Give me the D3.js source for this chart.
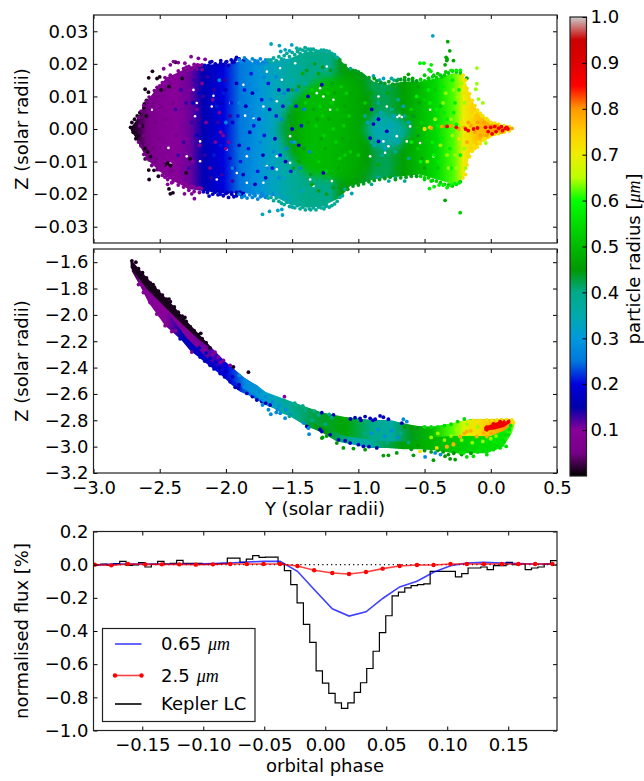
<!DOCTYPE html>
<html>
<head>
<meta charset="utf-8">
<script src="https://cdn.jsdelivr.net/npm/d3@7"></script>
<style>
body { margin: 0; background: #fff; }
text { font-family: "DejaVu Sans", sans-serif; fill: #000; }
.math { font-family: "Liberation Serif", serif; font-style: italic; }
</style>
</head>
<body>
<div id="chart"></div>
<script>
// Colour table of the particle radius bar, read as value -> colour.
const cmapStops = [0,.05,.1,.15,.2,.25,.3,.35,.4,.45,.5,.55,.6,.65,.7,.75,.8,.85,.9,.95,1];
const cmapColors = ["#000000","#770088","#880099","#0000aa","#0000dd","#0077dd","#0099dd","#00aaaa","#00aa88","#009900",
    "#00bb00","#00dd00","#00ff00","#bbff00","#eeee00","#ffcc00","#ff9900","#ff0000","#dd0000","#cc0000","#cccccc"];

// The clouds hold far more particles than can be read one by one, so each dense body
// is a band: [Y, upper Z, lower Z, radius].
const topOuter = [[-2.72,.0003,-.0003,.01],[-2.673,.0029,-.0033,.02],[-2.598,.0085,-.0092,.05],[-2.522,.0125,-.0122,.08],
    [-2.447,.0158,-.0148,.09],[-2.371,.0172,-.0165,.1],[-2.271,.0192,-.0185,.11],[-2.17,.0198,-.019,.16],[-2.019,.0198,-.0198,.2],
    [-1.893,.0207,-.0196,.25],[-1.767,.0204,-.0201,.29],[-1.641,.0207,-.0206,.33],[-1.515,.0217,-.0232,.37],[-1.389,.0238,-.0242,.4],
    [-1.263,.0238,-.0237,.4],[-1.213,.0233,-.0226,.4],[-1.138,.0212,-.0211,.44],[-1.062,.0182,-.0175,.46],[-.962,.0171,-.0165,.44],
    [-.886,.0146,-.0155,.42],[-.785,.0136,-.015,.42],[-.66,.0146,-.0145,.46],[-.534,.0146,-.014,.5],[-.408,.0156,-.0155,.55],
    [-.282,.0171,-.017,.62],[-.206,.0166,-.015,.7],[-.156,.01,-.0073,.73],[-.105,.0059,-.0053,.76],[-.03,.0029,-.0028,.78],
    [.071,.0013,-.0012,.8],[.171,.0002,-.0002,.76]];
const topCore = [[-1.6,.001,-.001,.42],[-1.5,.008,-.009,.46],[-1.389,.013,-.014,.5],[-1.263,.016,-.015,.5],[-1.138,.016,-.016,.49],
    [-1,.015,-.015,.47],[-.9,.01,-.012,.45]];
const topCentre = [[-.95,.001,-.001,.38],[-.85,.005,-.006,.34],[-.7,.004,-.006,.36],[-.6,.0005,-.0005,.4]];

const midLower = [[-2.711,-1.585,-1.668,.02],[-2.648,-1.668,-1.781,.07],[-2.585,-1.743,-1.906,.09],[-2.522,-1.806,-1.994,.1],
    [-2.459,-1.868,-2.082,.1],[-2.396,-1.931,-2.137,.12],[-2.334,-2.006,-2.195,.16],[-2.271,-2.082,-2.27,.17],[-2.208,-2.144,-2.32,.18],
    [-2.145,-2.207,-2.37,.18],[-2.082,-2.282,-2.42,.19],[-2.019,-2.345,-2.471,.2],[-1.956,-2.395,-2.533,.21],[-1.893,-2.458,-2.584,.22],
    [-1.83,-2.496,-2.609,.25],[-1.767,-2.533,-2.646,.25],[-1.704,-2.584,-2.684,.3],[-1.641,-2.621,-2.709,.33],[-1.578,-2.646,-2.747,.36],
    [-1.515,-2.659,-2.772,.38],[-1.452,-2.679,-2.809,.4],[-1.389,-2.701,-2.847,.42],[-1.326,-2.722,-2.872,.44],[-1.263,-2.747,-2.9,.45],
    [-1.163,-2.772,-2.96,.42],[-1.037,-2.785,-2.985,.36],[-.911,-2.797,-3.01,.36],[-.785,-2.797,-3.01,.42],[-.66,-2.822,-3.02,.46],
    [-.534,-2.847,-3.02,.48],[-.408,-2.847,-3.03,.5],[-.282,-2.822,-3.05,.52],[-.156,-2.792,-3.05,.54],[-.03,-2.792,-3.05,.55],
    [.096,-2.792,-3,.57],[.159,-2.792,-2.897,.62],[.184,-2.81,-2.82,.7]];
const midUpper = [[-2.7,-1.6,-1.66,.03],[-2.5,-1.825,-1.9,.09],[-2.3,-2.045,-2.17,.1],[-2.15,-2.205,-2.32,.11],[-2,-2.36,-2.45,.2],
    [-1.85,-2.485,-2.57,.28],[-1.7,-2.585,-2.66,.32],[-1.5,-2.66,-2.74,.38],[-1.3,-2.735,-2.84,.43],[-1.1,-2.775,-2.92,.47],
    [-.9,-2.797,-2.95,.4],[-.75,-2.8,-2.96,.36],[-.6,-2.84,-2.96,.44],[-.45,-2.85,-2.93,.5],[-.3,-2.825,-2.92,.62],[-.2,-2.8,-2.92,.68],
    [-.1,-2.792,-2.92,.72],[0,-2.792,-2.92,.76],[.1,-2.792,-2.88,.8],[.17,-2.795,-2.82,.78]];
const midEdge = [[-2.72,-1.585,-1.64,.01],[-2.6,-1.72,-1.8,.01],[-2.5,-1.825,-1.9,.01],[-2.4,-1.93,-2,.01],[-2.3,-2.045,-2.1,.01],
    [-2.2,-2.15,-2.19,.01],[-2.12,-2.24,-2.25,.01]];
const midStreak = [[-.05,-2.85,-2.88,.86],[.03,-2.82,-2.87,.87],[.1,-2.8,-2.85,.87],[.16,-2.79,-2.81,.87]];

// White holes seen inside the upper cloud, as Y,Z pairs.
const topGaps = [-2.245,.012,-2.22,.008,-2.094,.0102,-2.107,.0069,-2.233,.0039,-2.434,-.0058,-2.56,.0059,-2.42,-.0106,-2.195,-.0099,-1.968,.008,-1.868,.0136,-1.691,.0176,-1.855,.0041,-1.792,.0034,-1.717,.0069,-1.616,.0085,-1.578,.0151,-1.515,-.0022,-1.515,-.0104,-1.616,-.0084,-1.691,-.0114,-1.842,-.0084,-1.842,-.0165,-1.364,-.0155,-1.339,-.0175,-1.289,.0125,-1.314,.011,-1.477,.0202,-1.591,.0187,-1.238,.0192,-1.918,-.0135,-1.717,-.0165,-1.616,-.0124,-2.195,-.0038,-2.069,-.0155,-2.296,-.0084,-1.994,-.0063,-.69,.0041,-.705,.0037,-.672,.0037,-.811,-.0038,-.773,-.0053,-.848,.01,-.785,.0069,-.911,-.0084,-.798,-.0073,-.71,-.0022,-.634,-.0038,-.609,.0008,-1.213,.0059,-1.264,.01,-1.2,-.016,-1.188,.009,-.534,-.0043,-.433,-.0084,-.458,.0059];

// Particles estimated by eye from the reference, grouped as [radius, [Y,Z, Y,Z, ...]].
const topParticles = [
[.01,[-2.72,.0005,-2.71,.002,-2.7,-.001,-2.69,.003,-2.68,-.003,-2.67,.004,-2.66,-.002,-2.65,.005,-2.64,-.005,-2.63,.001,-2.62,.0065,-2.61,-.006,-2.6,.004,-2.59,-.007,-2.57,-.0085,-2.555,.0177,-2.583,.0157,-2.61,.0122,-2.585,.0113,-2.616,.0077,-2.6,.0088,-2.61,-.0092,-2.583,-.0126,-2.543,-.0127,-2.58,-.0155,-2.51,-.0145,-2.42,-.0199,-2.43,-.0184,-2.4,-.0196,-2.44,-.0105,-2.46,-.011,-2.42,-.0112,-2.43,.013,-2.38,.0205,-2.33,.0155,-2.3,-.0135,-2.27,-.0092,-2.52,.0155,-2.5,.016,-2.49,.012]],
[.05,[-2.66,.0035,-2.64,.0055,-2.62,.0072,-2.6,.0085,-2.58,.0098,-2.56,.0082,-2.54,.0118,-2.52,.0128,-2.66,-.004,-2.64,-.0052,-2.62,-.0078,-2.6,-.009,-2.58,-.0095,-2.56,-.0112,-2.54,-.0098,-2.52,-.0125,-2.65,.001,-2.62,-.002,-2.6,.001,-2.58,.006,-2.57,-.004,-2.55,.008,-2.55,-.006,-2.53,.002,-2.52,.01,-2.52,-.009,-2.5,-.003,-2.49,.007,-2.47,-.011,-2.46,.012,-2.45,.003,-2.44,-.007,-2.42,.014,-2.41,-.013,-2.4,.008,-2.38,-.002]],
[.09,[-2.47,.0185,-2.42,.0197,-2.396,.0207,-2.36,.0204,-2.31,.0202,-2.263,.0222,-2.208,.0217,-2.157,.0214,-2.215,.0197,-2.18,.0197,-2.44,-.017,-2.41,-.0165,-2.296,-.0175,-2.313,-.0199,-2.258,-.0199,-2.238,-.0214,-2.3,.019,-2.27,.0185,-2.24,.019,-2.35,.017,-2.39,.016,-2.43,.0155,-2.36,-.016,-2.33,-.0165,-2.28,-.018,-2.24,-.0178,-2.2,-.018,-2.35,.01,-2.33,.004,-2.3,-.003,-2.27,.012,-2.25,-.01,-2.22,.006,-2.2,-.005,-2.18,.014,-2.15,.002,-2.12,-.012,-2.1,.009,-2.08,-.004,-2.05,.005,-2.02,-.002,-2,-.006,-1.98,-.004,-2.04,-.001,-2.5,.0132,-2.48,.0142,-2.46,.0158,-2.44,.0152,-2.42,.0165,-2.4,.0158,-2.38,.0162,-2.36,.0178,-2.34,.017,-2.32,.0185,-2.3,.0178,-2.28,.0192,-2.26,.0182,-2.24,.0198,-2.22,.0185,-2.2,.0195,-2.18,.0182,-2.5,-.0125,-2.48,-.0142,-2.46,-.0148,-2.44,-.0155,-2.42,-.0148,-2.4,-.0162,-2.38,-.0155,-2.36,-.0172,-2.34,-.016,-2.32,-.0178,-2.3,-.0168,-2.28,-.0188,-2.26,-.0175,-2.24,-.0192,-2.22,-.0182,-2.2,-.0195,-2.18,-.0182]],
[.13,[-2.38,.006,-2.36,-.008,-2.34,.012,-2.32,-.004,-2.3,.008,-2.28,-.012,-2.26,.002,-2.24,.015,-2.22,-.014,-2.2,.003,-2.17,.01,-2.16,-.008,-2.14,.016,-2.11,-.015,-2.09,.012,-2.06,.002,-2.03,-.014,-2.01,.015,-1.97,.004,-1.95,-.016]],
[.17,[-2.107,.0207,-2.039,.021,-1.994,.0207,-2.13,.0195,-2.08,.0198,-1.95,.0205,-1.9,.0215,-1.87,.021,-1.85,.0212,-1.93,.0212,-2.17,-.0193,-2.127,-.0206,-2.082,-.0194,-2.044,-.02,-1.956,-.02,-1.893,-.0194,-1.99,-.0195,-1.92,-.0205,-1.88,-.0205,-1.87,-.0198,-2.25,.008,-2.22,-.002,-2.2,.011,-2.18,-.011,-2.15,.007,-2.13,-.004,-2.1,.003,-2.08,.015,-2.06,-.012,-2.03,.008,-2,.012,-1.97,-.009,-1.95,.002,-1.92,.014,-1.9,-.005,-1.87,-.014,-1.85,.007,-1.82,-.001,-1.8,.011,-1.78,-.017,-1.75,.003,-1.72,-.008,-1.7,-.015,-1.67,.006,-1.63,-.003,-1.6,.012,-1.55,-.01,-1.5,0,-1.45,-.005,-1.38,.01,-1.276,.0136,-1.264,-.0135,-.899,.006,-.848,.003,-.886,.0015,-.911,-.0028,-.848,-.0038,-.785,-.0007,-2.16,.0195,-2.14,.019,-2.12,.0205,-2.1,.0192,-2.08,.02,-2.06,.0195,-2.04,.0202,-2.02,.0198,-2,.0205,-1.98,.0195,-1.96,.0212,-1.94,.0205,-1.92,.022,-2.16,-.0185,-2.14,-.0195,-2.12,-.0182,-2.1,-.02,-2.08,-.0188,-2.06,-.0202,-2.04,-.0192,-2.02,-.0205,-2,-.0198,-1.98,-.021,-1.96,-.0195,-1.94,-.0208,-1.92,-.0195]],
[.21,[-2.09,-.008,-2.07,.007,-2.04,-.005,-2.02,.011,-1.99,.001,-1.96,.008,-1.94,-.012,-1.91,.004,-1.89,-.01,-1.86,.012,-1.83,-.006,-1.81,.017,-1.79,.001,-1.76,-.013,-1.73,.009,-1.71,-.002,-1.68,.014,-1.65,-.012,-1.62,.004,-1.59,-.008,-1.57,.007,-1.53,.012,-1.51,-.013,-1.47,.007,-1.43,.001]],
[.27,[-1.82,.0195,-1.78,.0205,-1.75,.02,-1.72,.0202,-1.69,.0207,-1.792,-.0198,-1.729,-.0199,-1.691,-.0206,-1.641,-.02,-2.05,.015,-2,.002,-1.95,-.012,-1.9,.008,-1.87,-.003,-1.84,.015,-1.82,-.01,-1.8,.004,-1.77,.012,-1.74,-.004,-1.71,.016,-1.69,-.012,-1.66,.009,-1.64,-.007,-1.62,.016,-1.6,-.015,-1.58,.003,-1.56,.011,-1.54,-.006,-1.9,.0212,-1.88,.0205,-1.86,.0218,-1.84,.021,-1.82,.0205,-1.8,.0215,-1.78,.021,-1.76,.0208,-1.74,.0215,-1.72,.0205,-1.7,.0212,-1.9,-.02,-1.88,-.021,-1.86,-.0205,-1.84,-.0212,-1.82,-.0202,-1.8,-.021,-1.78,-.0205,-1.76,-.0215,-1.74,-.0208,-1.72,-.0205,-1.7,-.021,-1.5,-.004,-1.47,.012,-1.44,-.012,-1.41,.006,-1.37,-.007]],
[.33,[-1.7,.019,-1.66,.0212,-1.62,.0205,-1.6,.0195,-1.56,.0212,-1.53,.021,-1.65,-.017,-1.62,-.02,-1.58,-.0205,-1.56,-.015,-1.52,.008,-1.5,.015,-1.48,-.004,-1.45,.019,-1.42,-.019,-1.4,.014,-1.659,.0261,-1.596,.0256,-1.503,.0258,-1.586,.0238,-1.553,.0243,-1.52,.024,-1.724,-.0262,-1.671,-.0253,-1.608,-.025,-1.578,-.0247,-1.573,-.0264,-1.54,-.0211,-1.523,-.0223,-1.498,-.024,-1.05,-.0198,-.438,.0286,-.886,.0163,-.84,.015,-.81,.0155,-.82,.014,-.85,-.0148,-.93,.002,-.88,-.005,-.83,.005,-.8,-.006,-.76,.001,-.73,.004,-.7,-.004,-.66,.007,-.62,.002]],
[.38,[-1.465,.0248,-1.44,.0245,-1.402,.025,-1.36,.0245,-1.3,.0238,-1.447,-.0232,-1.42,-.024,-1.37,-.0245,-1.3,-.024,-1.25,-.0238,-1.2,-.0235,-1.15,.0215,-1.17,.022,-1.14,-.021,-1.1,-.0185,-1.06,.0185,-.9,-.017,-.75,.0155,-.73,.015,-.7,.0152,-.77,-.016,-.72,-.015,-.65,-.016,-.95,.004,-.9,-.004,-.85,.008,-.82,-.008,-.8,.002,-.78,-.004,-.75,.006,-.72,-.007,-.7,.009,-.67,-.002,-.65,.004,-.62,-.009,-1.68,.0212,-1.66,.0205,-1.64,.0218,-1.62,.021,-1.6,.0222,-1.58,.0215,-1.56,.0225,-1.54,.0232,-1.52,.0222,-1.5,.0235,-1.48,.0228,-1.46,.0238,-1.44,.0232,-1.42,.0242,-1.4,.0238,-1.38,.0245,-1.36,.024,-1.34,.0245,-1.32,.024,-1.28,.0242,-1.26,.0242,-1.24,.024,-1.22,.0238,-1.2,.0232,-1.18,.0228,-1.16,.022,-1.68,-.0212,-1.66,-.021,-1.64,-.022,-1.62,-.0212,-1.6,-.0222,-1.58,-.0228,-1.56,-.0232,-1.54,-.0225,-1.52,-.0238,-1.5,-.023,-1.48,-.0242,-1.46,-.0235,-1.44,-.0245,-1.4,-.0248,-1.36,-.0248,-1.34,-.0242,-1.32,-.0248,-1.28,-.0242,-1.26,-.0245,-1.24,-.0235,-1.22,-.024,-1.18,-.023,-1.16,-.0222,-1.12,-.0205]],
[.44,[-1.14,.0212,-1.12,.0195,-1.1,.0195,-1.08,.0182,-1.04,.018,-1.02,.0178,-1,.0175,-.98,.017,-.96,.0162,-.92,.0158,-.88,.0155,-.86,.0148,-.83,.0142,-.8,.014,-.77,.0145,-.74,.0138,-.71,.0148,-.68,.0152,-.65,.015,-.62,.0152,-.59,.0148,-.56,.0148,-1.08,-.0185,-1.04,-.0175,-1,-.0172,-.96,-.0168,-.92,-.0162,-.88,-.0158,-.84,-.0155,-.8,-.0152,-.76,-.0148,-.72,-.0155,-.68,-.015,-.64,-.0148,-.6,-.0145,-.56,-.0145,-1.52,.004,-1.49,-.012,-1.45,.013,-1.41,-.006,-1.39,.018,-1.36,-.014,-1.33,.02,-1.3,-.019,-1.27,.019,-1.24,-.02,-1.21,.018,-1.19,-.018,-.58,.004,-.55,-.002]],
[.47,[-1.5,.012,-1.45,-.01,-1.42,.017,-1.38,.002,-1.35,-.017,-1.3,.017,-1.25,-.006,-1.2,.014,-1.15,-.012,-1.1,.007,-1.05,-.004,-1,.012,-.95,-.012,-.9,.011,-.85,-.011,-.78,.011,-.7,-.012,-.65,.01,-.6,-.013,-.55,.013,-.5,-.012,-.622,.0168,-.65,.0158,-.59,.0155,-.345,-.0219,-.33,.0215,-.282,.021,-.325,.0268,-.31,.024,-.337,.022,-.332,.021,-.345,.0197,-.181,.0156,-1.34,.006,-1.31,.003,-1.28,-.003,-1.22,.003,-1.18,.011,-1.12,-.003,-1.06,.011,-1.03,-.012,-.98,.004,-.96,-.004,-.54,.008,-.52,-.009]],
[.53,[-1.4,.008,-1.35,.012,-1.3,-.01,-1.27,.004,-1.24,-.013,-1.2,.008,-1.17,-.004,-1.13,.013,-1.1,-.008,-1.07,.004,-1,-.008,-.95,.008,-.6,.006,-.55,-.006,-.52,.002,-.5,.009,-.47,-.009,-.45,.004,-.42,.012,-.4,-.012,-.38,.007,-.231,-.0257,-.5,.0165,-.47,.0155,-.43,.0165,-.4,.017,-.37,.016,-.34,.0175,-.5,-.0155,-.45,-.016,-.53,.0152,-.5,.0148,-.47,.0155,-.44,.016,-.41,.0158,-.38,.0165,-.35,.0165,-.32,.0172,-.29,.0178,-.26,.0175,-.23,.0172,-.53,-.0145,-.5,-.015,-.47,-.015,-.44,-.0158,-.41,-.016,-.38,-.0165,-.35,-.017,-.32,-.0172,-.29,-.0175,-.26,-.017,-.23,-.0162,-1.32,.001,-1.29,.007,-1.26,-.002,-1.23,.011,-1.19,0,-1.16,.006,-1.14,-.009,-1.11,.001,-1.09,.011,-1.06,-.007]],
[.58,[-.6,-.004,-.56,.01,-.53,-.01,-.5,0,-.47,.012,-.44,-.004,-.41,.006,-.39,-.01,-.36,.013,-.33,.003,-.3,-.012,-.29,.015,-.27,.008,-.463,-.0183,-.428,-.0177,-.39,-.0172,-.36,-.0172,-.33,-.018,-.3,-.0172,-.27,-.0168,-.24,-.0165,-.534,.0202,-.505,.0202,-.45,.0197,-.466,.0182,-.453,.0177,-.3,.018,-.26,.018,-.23,.018,-.46,.008,-.43,-.008,-.4,.001,-.37,-.003,-.35,.005,-.31,-.006,-.28,.005,-.26,.0014,-.24,.012,-.23,-.008]],
[.64,[-.42,.003,-.38,-.005,-.36,.008,-.33,-.008,-.3,.003,-.28,.012,-.26,-.012,-.24,.005,-.22,.014,-.22,-.015,-.2,-.006,-.2,.008,-.19,-.012,-.5,0,-.48,-.01,-.105,.0187,-.105,.0139,-.113,.0122,-.093,.0092,-.06,.008,-.037,-.0043,-.34,.011,-.32,-.012,-.29,-.002,-.27,-.008,-.25,.01]],
[.72,[-.24,-.003,-.22,.002,-.2,.011,-.19,-.002,-.18,.006,-.17,-.008,-.16,.008,-.15,-.004,-.14,.004,-.13,-.005,-.12,.005,-.1,.0055,-.09,-.004,-.07,.004,-.05,-.003,-.03,.0032,-.5,0,-.46,.0005,-.21,.0165,-.19,.015,-.18,.0125,-.16,.0108,-.14,.0088,-.12,.0072,-.1,.0058,-.08,.0048,-.06,.004,-.04,.0032,-.02,.0026,0,.002,.03,.0018,.06,.0015,.1,.001,.14,.0007,-.21,-.015,-.19,-.014,-.18,-.011,-.16,-.0085,-.14,-.0068,-.12,-.006,-.1,-.0055,-.08,-.0045,-.06,-.0035,-.04,-.003,-.02,-.0025,0,-.002,.03,-.0016,.06,-.0014,.1,-.001,.14,-.0006]],
[.79,[-.3,.001,-.24,0,-.2,.0005,-.18,-.004,-.17,.002,-.15,.001,-.12,-.001,-.1,.002,-.08,-.002,-.05,.002,-.03,-.002,-.01,.001,.02,-.001,.05,.001,.08,-.001,.12,.0005,.16,.0002,-.45,.0003,-.37,.0008]],
[.87,[-.33,.0008,-.26,.0005,-.19,0,-.17,-.0005,-.13,0,-.1,.0003,-.04,.0005,-.02,-.0008,0,.0005,.01,-.0015,.03,.0008,.04,-.0008,.06,.0002,.08,.0007,.09,-.0005,.11,.0002,.12,.0005,.13,0]]
];

const midParticles = [
[.09,[-2.66,-1.77,-2.623,-1.83,-2.573,-1.906,-2.522,-1.994,-2.459,-2.082,-2.409,-2.127,-2.082,-2.282,-2.056,-2.32,-2.019,-2.345,-1.968,-2.383,-1.558,-2.621,-2.258,-2.282,-2.6,-1.84,-2.55,-1.92,-2.5,-2,-2.44,-2.06,-2.38,-2.12,-2.32,-2.12,-2.28,-2.17,-2.22,-2.22,-2.16,-2.26,-2.1,-2.3,-2.04,-2.36]],
[.01,[-2.71,-1.59,-2.7,-1.63,-2.66,-1.65,-2.63,-1.68,-2.6,-1.72,-2.57,-1.76,-2.54,-1.79,-2.51,-1.82,-2.48,-1.85,-2.45,-1.88,-2.42,-1.9,-2.39,-1.94,-2.36,-1.98,-2.33,-2.01,-2.3,-2.05,-2.27,-2.09,-2.24,-2.12,-2.21,-2.15,-2.18,-2.18,-2.15,-2.21,-1.943,-2.395,-1.83,-2.435,-2.68,-1.6,-2.55,-1.77,-2.43,-1.88,-2.31,-2.02,-2.19,-2.14,-2.12,-2.25]],
[.17,[-2.346,-2.182,-2.27,-2.245,-2.195,-2.32,-2.12,-2.383,-2.044,-2.445,-1.968,-2.508,-1.905,-2.558,-1.842,-2.596,-1.767,-2.646,-1.729,-2.659,-1.666,-2.684,-1.389,-2.847,-1.289,-2.87,-1.276,-2.885,-1.213,-2.91,-1.15,-2.948,-1.062,-2.973,-.962,-2.998,-.861,-3.01,-1.025,-2.78,-.987,-2.785,-.949,-2.772,-.911,-2.785,-.873,-2.792,-.836,-2.767,-.811,-2.777,-.773,-2.792,-.672,-2.822,-1.188,-2.76,-1.276,-2.742,-2.2,-2.25,-2.15,-2.29,-2.12,-2.33,-2.08,-2.36,-2.05,-2.4,-2,-2.43,-1.95,-2.47,-1.9,-2.53,-2.3,-2.2,-2.23,-2.28,-2.16,-2.35,-2.09,-2.41,-2.01,-2.47,-1.93,-2.55,-1.8,-2.62,-1.7,-2.67,-1.1,-2.955,-1,-2.985,-.92,-3,-.89,-2.8,-.98,-2.8,-1.06,-2.79]],
[.28,[-1.9,-2.46,-1.85,-2.5,-1.8,-2.55,-1.75,-2.58,-1.7,-2.62,-1.86,-2.55,-1.79,-2.6,-1.72,-2.65,-1.679,-2.72,-1.661,-2.754,-1.61,-2.72,-1.59,-2.747,-1.553,-2.784,-1.515,-2.76,-1.414,-2.82,-1.377,-2.86,-1.372,-2.905,-1.724,-2.684,-.496,-3.078,-.42,-3.048,-.38,-3.06,-.66,-2.792,-.634,-2.81,-.9,-2.9,-.85,-2.87,-.8,-2.92,-.75,-2.88,-.7,-2.93,-1.65,-2.66,-1.6,-2.69,-1.55,-2.72,-1.62,-2.74]],
[.4,[-1.5,-2.7,-1.45,-2.75,-1.4,-2.72,-1.35,-2.8,-1.3,-2.76,-1.25,-2.83,-1.2,-2.78,-.95,-2.9,-.88,-2.95,-.78,-2.97,-.68,-2.9,-.62,-2.97,-1.48,-2.67,-1.42,-2.69,-1.33,-2.73,-1.22,-2.755,-1.56,-2.65,-1.52,-2.77]],
[.45,[-1.27,-2.93,-1.24,-2.92,-1.276,-2.935,-1.163,-2.973,-1.113,-3.01,-1.037,-3.015,-.949,-3.023,-.811,-3.068,-.773,-3.066,-.71,-3.048,-.584,-3.066,-.433,-3.103,-.345,-3.073,-.32,-3.06,-.307,-3.093,-.269,-3.098,-.6,-3.02,-.55,-2.99,-.5,-3.03,-.45,-3.04,-.4,-3.03,-.36,-3.04,-.28,-3.05,-.22,-3.06,-.15,-3.05,-.65,-2.85,-.6,-2.86,-.55,-2.855]],
[.55,[-.181,-3.078,-.131,-3.073,-.093,-3.036,-.03,-3.061,.02,-3.023,.071,-3.01,.116,-2.998,.083,-2.948,.134,-2.91,.11,-2.91,-.231,-3.048,-.205,-3.048,-.08,-3,-.005,-2.973,.03,-3.01,-.5,-2.85,-.45,-2.85,-.4,-2.85,-.35,-2.84,-.3,-2.83,-.25,-2.81,-.2,-2.79,-.1,-3.04,-.05,-3.03,.05,-2.99,.1,-2.96,.14,-2.87,.15,-2.84]],
[.64,[-.45,-2.93,-.4,-2.9,-.35,-2.95,-.3,-2.92,-.26,-2.87,-.22,-2.95,-.18,-2.83,-.14,-2.97,-.1,-2.85,-.06,-2.96,0,-2.94,.04,-2.92]],
[.72,[-.534,-3.036,-.408,-3.01,-.332,-3,-.282,-2.985,-.231,-2.923,-.156,-2.847,-.106,-2.81,-.03,-2.797,.045,-2.797,.159,-2.81,.171,-2.82,.159,-2.797,-.13,-2.8,-.08,-2.8,.01,-2.8,.08,-2.795,.12,-2.795]],
[.78,[-.231,-2.923,-.181,-2.885,-.106,-2.923,-.055,-2.897,-.03,-2.923,-.332,-3,-.282,-2.98,-.2,-2.9,-.15,-2.88,0,-2.9,.05,-2.88]],
[.87,[-.03,-2.872,.008,-2.852,.045,-2.842,.096,-2.822,.134,-2.81,.071,-2.81,.02,-2.827,-.03,-2.852]]
];

// Light curves.
const modelPhase = [-.189,-.1754,-.1617,-.1476,-.1339,-.1197,-.1061,-.0921,-.0779,-.0643,-.0506,-.037,-.0228,-.0091,.0058,.0195,.0334,.0471,.061,.0752,.0888,.1027,.1161,.13,.1448,.1584,.1721,.1863];
const flux065 = [-.004,.004,.004,.004,.004,.004,.004,.006,.01,.016,.02,.02,-.04,-.15,-.266,-.31,-.284,-.204,-.134,-.1,-.046,-.006,.01,.014,.01,.006,.004,.004];
const flux25 = [0,-.004,.004,.002,.002,.002,0,.002,.004,.004,.004,.004,-.008,-.034,-.05,-.056,-.044,-.024,-.008,-.002,-.002,.004,.004,.004,.004,.004,.004,.004];
const keplerEdges = [-.1893,-.1841,-.1789,-.1737,-.1685,-.1633,-.1581,-.153,-.1478,-.1426,-.1374,-.1322,-.127,-.1218,-.1166,-.1114,-.1062,-.101,-.0958,-.0906,-.0854,-.0803,-.0751,-.0699,-.0647,-.0595,-.0543,-.0491,-.0439,-.0387,-.0335,-.0283,-.0231,-.0179,-.0127,-.0075,-.0023,.0029,.0081,.0133,.0185,.0237,.0289,.034,.0392,.0444,.0496,.0548,.06,.0652,.0704,.0756,.0808,.086,.0912,.0964,.1016,.1067,.1119,.1171,.1223,.1275,.1327,.1379,.1431,.1483,.1535,.1587,.1639,.1691,.1743,.1795,.1847,.1899];
const keplerFlux = [0,.004,-.004,.006,.02,-.004,-.002,.012,-.014,.002,.02,.004,.008,.026,.008,.008,.008,.002,.004,.006,.008,.04,.04,.014,.034,.054,.044,.046,.046,.004,-.036,-.12,-.23,-.36,-.468,-.64,-.714,-.776,-.834,-.866,-.834,-.77,-.712,-.626,-.522,-.41,-.308,-.188,-.166,-.14,-.126,-.12,-.116,-.04,-.04,-.04,-.04,-.074,-.054,-.02,-.02,-.014,-.03,-.006,-.006,.014,0,.004,-.03,-.02,-.014,.004,.024,.024];

const yTicks = [-3,-2.5,-2,-1.5,-1,-.5,0,.5];
const topZTicks = [-.03,-.02,-.01,0,.01,.02,.03];
const midZTicks = [-3.2,-3,-2.8,-2.6,-2.4,-2.2,-2,-1.8,-1.6];
const phaseTicks = [-.15,-.1,-.05,0,.05,.1,.15];
const fluxTicks = [-1,-.8,-.6,-.4,-.2,0,.2];
const radiusTicks = [.1,.2,.3,.4,.5,.6,.7,.8,.9,1];

const fontSize = 18;
const left = 93.5, right = 557;
const svg = d3.select("#chart").append("svg").attr("width", 644).attr("height", 781).style("display", "block");
const defs = svg.append("defs");
const cmap = d3.scaleLinear().domain(cmapStops).range(cmapColors).clamp(true);

let xCloud = d3.scaleLinear().domain([-3, .5]).range([left, right]);
let yTop = d3.scaleLinear().domain([-.035, .035]).range([243, 15]);
let yMid = d3.scaleLinear().domain([-3.2, -1.5]).range([473, 249]);
let xPhase = d3.scaleLinear().domain([-.19, .19]).range([left, right]);
let yFlux = d3.scaleLinear().domain([-1, .2]).range([730.5, 531.5]);
let yBar = d3.scaleLinear().domain([0, 1]).range([476, 17]);

function clipFor(id, y) {
    defs.append("clipPath").attr("id", id).append("rect")
        .attr("x", left).attr("y", y.range()[1])
        .attr("width", right - left).attr("height", y.range()[0] - y.range()[1]);
}
clipFor("clip-top", yTop);
clipFor("clip-mid", yMid);
clipFor("clip-flux", yFlux);

// Soft edge for the inner bands, there is no hard line between colours in the reference.
defs.append("filter").attr("id", "soft").attr("x", "-20%").attr("y", "-20%").attr("width", "140%").attr("height", "140%")
    .append("feGaussianBlur").attr("stdDeviation", 4);

function drawRibbon(parent, id, rows, y, filter) {
    let grad = defs.append("linearGradient").attr("id", id)
        .attr("gradientUnits", "userSpaceOnUse")
        .attr("x1", xCloud(rows[0][0])).attr("x2", xCloud(rows[rows.length-1][0]))
        .attr("y1", 0).attr("y2", 0);
    let span = rows[rows.length-1][0] - rows[0][0];
    rows.forEach(r => {
        grad.append("stop").attr("offset", (r[0] - rows[0][0]) / span).attr("stop-color", cmap(r[3]));
    });
    let area = d3.area().x(r => xCloud(r[0])).y0(r => y(r[2])).y1(r => y(r[1]));
    let path = parent.append("path").attr("d", area(rows)).attr("fill", "url(#" + id + ")");
    if (filter) {
        path.attr("filter", "url(#" + filter + ")");
    }
}

function toPairs(flat) {
    return d3.pairs(flat).filter((p, i) => i % 2 == 0);
}

function drawParticles(parent, groups, y) {
    groups.forEach(g => {
        parent.append("g").selectAll("circle").data(toPairs(g[1])).enter().append("circle")
            .attr("cx", p => xCloud(p[0]))
            .attr("cy", p => y(p[1]))
            .attr("r", 1.9)
            .attr("fill", cmap(g[0]));
    });
}

// Inward ticks on all four sides, then the frame on top.
function drawFrame(x, y, xVals, yVals, xFormat, yFormat) {
    let g = svg.append("g");
    let bottom = y.range()[0], top = y.range()[1];
    let xa = g.append("g").attr("transform", "translate(0," + bottom + ")")
        .call(d3.axisBottom(x).tickValues(xVals).tickSizeInner(-4).tickSizeOuter(0).tickPadding(8).tickFormat(xFormat));
    let xb = g.append("g").attr("transform", "translate(0," + top + ")")
        .call(d3.axisTop(x).tickValues(xVals).tickSizeInner(-4).tickSizeOuter(0).tickFormat(""));
    let ya = g.append("g").attr("transform", "translate(" + left + ",0)")
        .call(d3.axisLeft(y).tickValues(yVals).tickSizeInner(-4).tickSizeOuter(0).tickPadding(5).tickFormat(yFormat));
    let yb = g.append("g").attr("transform", "translate(" + right + ",0)")
        .call(d3.axisRight(y).tickValues(yVals).tickSizeInner(-4).tickSizeOuter(0).tickFormat(""));
    [xa, xb, ya, yb].forEach(a => {
        a.select(".domain").remove();
        a.selectAll("text").style("font-size", fontSize + "px").style("font-family", '"DejaVu Sans"');
        a.selectAll("line").attr("stroke", "#000");
    });
    g.append("rect").attr("x", left).attr("y", top).attr("width", right - left).attr("height", bottom - top)
        .attr("fill", "none").attr("stroke", "#222").attr("stroke-width", 1.2);
}

function yLabel(text, cy) {
    svg.append("text").attr("transform", "translate(28," + cy + ") rotate(-90)")
        .attr("text-anchor", "middle").style("font-size", fontSize + "px").text(text);
}

// Top panel.
let topG = svg.append("g").attr("clip-path", "url(#clip-top)");
drawRibbon(topG, "top-outer", topOuter, yTop);
drawRibbon(topG, "top-core", topCore, yTop, "soft");
drawRibbon(topG, "top-centre", topCentre, yTop, "soft");
topG.append("g").selectAll("circle").data(toPairs(topGaps)).enter().append("circle")
    .attr("cx", p => xCloud(p[0])).attr("cy", p => yTop(p[1])).attr("r", 1.3).attr("fill", "#fff");
drawParticles(topG, topParticles, yTop);
drawFrame(xCloud, yTop, yTicks, topZTicks, "", d3.format(".2f"));
yLabel("Z (solar radii)", 129);

// Middle panel.
let midG = svg.append("g").attr("clip-path", "url(#clip-mid)");
drawRibbon(midG, "mid-lower", midLower, yMid);
drawRibbon(midG, "mid-upper", midUpper, yMid);
drawRibbon(midG, "mid-edge", midEdge, yMid);
drawRibbon(midG, "mid-streak", midStreak, yMid);
drawParticles(midG, midParticles, yMid);
drawFrame(xCloud, yMid, yTicks, midZTicks, d3.format(".1f"), d3.format(".1f"));
yLabel("Z (solar radii)", 361);
svg.append("text").attr("x", 325).attr("y", 515).attr("text-anchor", "middle")
    .style("font-size", fontSize + "px").text("Y (solar radii)");

// Light curve panel.
let fluxG = svg.append("g").attr("clip-path", "url(#clip-flux)");
fluxG.append("line").attr("x1", left).attr("x2", right)
    .attr("y1", yFlux(0)).attr("y2", yFlux(0))
    .attr("stroke", "#000").attr("stroke-width", 1.2).attr("stroke-dasharray", "1.2 3.2");
let keplerLine = d3.line().curve(d3.curveStepAfter)
    .x((d, i) => xPhase(keplerEdges[i])).y(d => yFlux(d));
fluxG.append("path").attr("d", keplerLine(keplerFlux))
    .attr("fill", "none").attr("stroke", "#000").attr("stroke-width", 1.2);
let modelLine = d3.line().x((d, i) => xPhase(modelPhase[i])).y(d => yFlux(d));
fluxG.append("path").attr("d", modelLine(flux065))
    .attr("fill", "none").attr("stroke", "#0000ff").attr("stroke-opacity", .75).attr("stroke-width", 1.6);
fluxG.append("path").attr("d", modelLine(flux25))
    .attr("fill", "none").attr("stroke", "#ff0000").attr("stroke-opacity", .75).attr("stroke-width", 1.6);
fluxG.append("g").selectAll("circle").data(flux25).enter().append("circle")
    .attr("cx", (d, i) => xPhase(modelPhase[i])).attr("cy", d => yFlux(d))
    .attr("r", 2.2).attr("fill", "#ff0000");
drawFrame(xPhase, yFlux, phaseTicks, fluxTicks, d3.format(".2f"), d3.format(".1f"));
yLabel("normalised flux [%]", 631);
svg.append("text").attr("x", 325).attr("y", 772).attr("text-anchor", "middle")
    .style("font-size", fontSize + "px").text("orbital phase");

// Legend.
let legend = svg.append("g");
legend.append("rect").attr("x", 102.5).attr("y", 628.5).attr("width", 152.5).attr("height", 93)
    .attr("fill", "#fff").attr("stroke", "#222").attr("stroke-width", 1.2);
function legendRow(y, color, opacity, dots, label, unit) {
    legend.append("line").attr("x1", 115).attr("x2", 141.5).attr("y1", y).attr("y2", y)
        .attr("stroke", color).attr("stroke-opacity", opacity).attr("stroke-width", 1.6);
    if (dots) {
        legend.selectAll(null).data([115, 141.5]).enter().append("circle")
            .attr("cx", d => d).attr("cy", y).attr("r", 2.2).attr("fill", color);
    }
    let t = legend.append("text").attr("x", 161).attr("y", y + 6).style("font-size", fontSize + "px").text(label);
    if (unit) {
        t.append("tspan").attr("class", "math").attr("dx", 7).text(unit);
    }
}
legendRow(644, "#0000ff", .75, false, "0.65", "μm");
legendRow(675.5, "#ff0000", .75, true, "2.5", "μm");
legendRow(704, "#000", 1, false, "Kepler LC", "");

// Colour bar.
let barGrad = defs.append("linearGradient").attr("id", "bar-grad")
    .attr("x1", 0).attr("x2", 0).attr("y1", 1).attr("y2", 0);
cmapStops.forEach((s, i) => {
    barGrad.append("stop").attr("offset", s).attr("stop-color", cmapColors[i]);
});
svg.append("rect").attr("x", 570).attr("y", yBar(1)).attr("width", 16.5).attr("height", yBar(0) - yBar(1))
    .attr("fill", "url(#bar-grad)").attr("stroke", "#222").attr("stroke-width", 1.2);
let barAxis = svg.append("g").attr("transform", "translate(586.5,0)")
    .call(d3.axisRight(yBar).tickValues(radiusTicks).tickSizeInner(-4).tickSizeOuter(0).tickPadding(4).tickFormat(d3.format(".1f")));
barAxis.select(".domain").remove();
barAxis.selectAll("text").style("font-size", fontSize + "px").style("font-family", '"DejaVu Sans"');
barAxis.selectAll("line").attr("stroke", "#000");
let barLabel = svg.append("text").attr("transform", "translate(640,259) rotate(-90)")
    .attr("text-anchor", "middle").style("font-size", fontSize + "px").text("particle radius [");
barLabel.append("tspan").attr("class", "math").text("μm");
barLabel.append("tspan").text("]");
</script>
</body>
</html>
